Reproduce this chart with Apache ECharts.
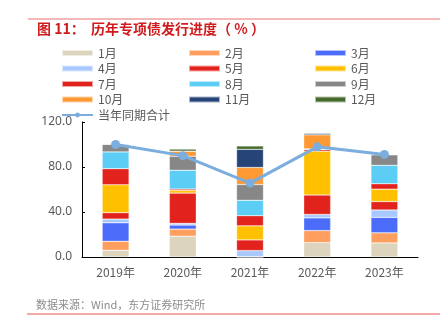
<!DOCTYPE html>
<html><head><meta charset="utf-8">
<script src="https://cdn.jsdelivr.net/npm/echarts@6/dist/echarts.min.js"></script>
<style>html,body{margin:0;padding:0;background:#fff}#c{width:440px;height:327px}</style>
</head><body><div id="c"></div>
<script>
const years = ['2019年','2020年','2021年','2022年','2023年'];
const m1  = [6.0, 18.5, 0,   12.8, 12.5];
const m2  = [8.0, 6.3,  0,   10.7, 9.0];
const m3  = [16.4, 3.6, 0.3, 11.3, 13.7];
const m4  = [3.3, 1.5,  5.4, 3.0,  6.6];
const m5  = [5.7, 26.9, 9.5, 17.3, 7.5];
const m6  = [24.8, 2.4, 12.5, 38.8, 11.0];
const m7  = [14.3, 1.2, 9.0, 1.4,  4.8];
const m8  = [14.9, 16.7, 13.7, 0.8, 16.4];
const m9  = [6.9, 12.5, 14.0, 0,   9.5];
const m10 = [0,   4.5,  15.2, 12.5, 0];
const m11 = [0,   0,    16.1, 1.2,  0];
const m12 = [0,   1.8,  3.0,  0.6,  0];
const total = [100.0, 90.1, 65.7, 97.9, 91.2];
const monthNames = ['1月','2月','3月','4月','5月','6月','7月','8月','9月','10月','11月','12月'];
const monthData = [m1,m2,m3,m4,m5,m6,m7,m8,m9,m10,m11,m12];
const colors = ['#DDD4BE','#FF9F5F','#4B6CF9','#A8C9FF','#E2231D','#FFC000','#E2231D','#5CCDF4','#878787','#FF9933','#264478','#46692C'];
const lineName = '当年同期合计';

const chart = echarts.init(document.getElementById('c'));
const series = monthNames.map((n,i)=>({
  name:n, type:'bar', stack:'s', data:monthData[i], barWidth:'40%',
  itemStyle:{color:colors[i], borderColor:'rgba(255,255,255,0.6)', borderWidth:0.5}
}));
series.push({name:lineName, type:'line', data:total, symbol:'circle', symbolSize:9,
  lineStyle:{color:'#7BAEDF', width:3}, itemStyle:{color:'#7BAEDF'}, z:10});
const legBase = {orient:'vertical', itemWidth:31, itemHeight:6, itemGap:1.5, top:46,
  textStyle:{color:'#595959', fontSize:12, lineHeight:14, fontFamily:'Noto Sans CJK SC'}, padding:0};
const r = n => ({name:n, icon:'rect'});
chart.setOption({
  animation:false,
  graphic:[
    {type:'line', shape:{x1:28,y1:19,x2:440,y2:19}, style:{stroke:'#E87070', lineWidth:1}},
    {type:'line', shape:{x1:27,y1:314,x2:440,y2:314}, style:{stroke:'#E85050', lineWidth:1}},
    {type:'text', left:37, top:22, style:{text:'图 11：  历年专项债发行进度（ % ）', fill:'#D01C1F', font:'bold 14px "Noto Sans CJK SC"'}},
    {type:'text', left:36, top:299, style:{text:'数据来源：Wind，东方证券研究所', fill:'#8C8C8C', font:'11px "Noto Sans CJK SC"'}}
  ],
  legend:[
    Object.assign({}, legBase, {left:61, data:[r('1月'),r('4月'),r('7月'),r('10月'),{name:lineName, itemStyle:{color:'#7BAEDF'}}]}),
    Object.assign({}, legBase, {left:188, data:[r('2月'),r('5月'),r('8月'),r('11月')]}),
    Object.assign({}, legBase, {left:314, data:[r('3月'),r('6月'),r('9月'),r('12月')]})
  ],
  grid:{left:82, right:22, top:122, bottom:70},
  xAxis:{type:'category', data:years,
    axisLine:{lineStyle:{color:'#000', width:1}},
    axisTick:{inside:true, length:4, lineStyle:{color:'#000'}},
    axisLabel:{color:'#595959', fontSize:12, margin:9, fontFamily:'Noto Sans CJK SC'}},
  yAxis:{type:'value', min:0, max:120, interval:40,
    axisLine:{show:true, lineStyle:{color:'#000', width:1}},
    axisTick:{show:true, inside:true, length:3, lineStyle:{color:'#000'}},
    splitLine:{show:false},
    axisLabel:{color:'#595959', fontSize:12, margin:10, formatter:v=>v.toFixed(1), fontFamily:'Noto Sans'}},
  series:series
});
</script></body></html>
